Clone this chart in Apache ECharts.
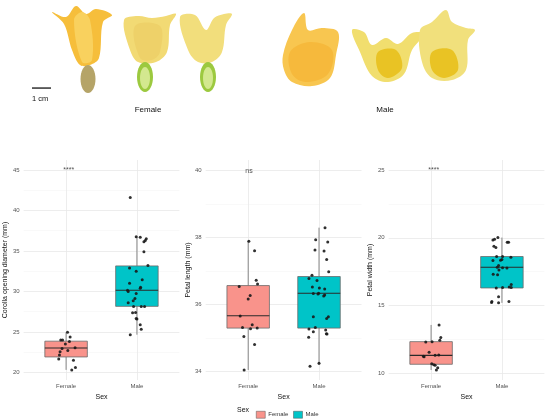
<!DOCTYPE html>
<html>
<head>
    <meta charset="utf-8">
    <script src="https://cdn.jsdelivr.net/npm/echarts@6/dist/echarts.min.js"></script>
    <title>Flower size by sex</title>
    <style>
        html, body { margin: 0; padding: 0; background: #fff; }
        #main { width: 550px; height: 419px; }
    </style>
</head>
<body>
    <div id="main"></div>
    <script type="text/javascript">
        // categories and panel texts
        var sexes = ['Female', 'Male'];
        var panelNames = ['Corolla opening diameter (mm)', 'Petal length (mm)', 'Petal width (mm)'];
        var sigLabels = ['****', 'ns', '****'];
        var sigY = [45, 40, 25];

        // tick labels and grid lines of each panel
        var yTicks = [[20, 25, 30, 35, 40, 45], [34, 36, 38, 40], [10, 15, 20, 25]];
        var yMinor = [[22.5, 27.5, 32.5, 37.5, 42.5], [35, 37, 39], [12.5, 17.5, 22.5]];
        var yRanges = [[19.05, 46.24], [33.75, 40.32], [9.51, 25.74]];

        // box stats: lower whisker, Q1, median, Q3, upper whisker  (Female, Male)
        var corollaBox = [[20.3, 21.9, 23.0, 23.85, 24.95], [24.65, 28.15, 30.15, 33.15, 36.75]];
        var lengthBox = [[34.05, 35.3, 35.67, 36.57, 37.9], [34.2, 35.3, 36.34, 36.84, 38.3]];
        var widthBox = [[10.25, 10.67, 11.33, 12.34, 13.57], [15.2, 16.3, 17.83, 18.62, 20.02]];

        // jittered points: [offset from category, value]
        var corollaFemale = [[0.02, 24.96], [-0.075, 24.0], [-0.05, 24.0], [0.057, 24.35], [0.047, 23.8], [-0.01, 23.5],
            [-0.057, 22.95], [0.127, 23.05], [0.024, 22.7], [-0.085, 22.55], [-0.094, 22.15], [-0.104, 21.65],
            [0.104, 21.5], [0.132, 20.6], [0.08, 20.3]];
        var corollaMale = [[-0.094, 41.6], [-0.01, 36.75], [0.047, 36.7], [0.132, 36.5], [0.118, 36.3], [0.099, 36.15],
            [0.099, 34.9], [0.156, 33.2], [-0.104, 32.9], [-0.01, 32.5], [0.075, 31.45], [-0.104, 31.0],
            [0.052, 30.5], [0.047, 30.4], [-0.132, 30.15], [-0.123, 30.0], [-0.01, 29.75], [-0.028, 29.13],
            [-0.052, 28.85], [-0.123, 28.6], [-0.047, 28.14], [0.061, 28.14], [0.108, 28.14], [-0.061, 27.35],
            [-0.019, 27.4], [-0.01, 26.65], [0.0, 26.6], [0.047, 25.87], [0.061, 25.33], [-0.094, 24.63]];
        var lengthFemale = [[0.009, 37.89], [0.09, 37.61], [0.113, 36.73], [0.132, 36.62], [-0.127, 36.54], [0.028, 36.27],
            [0.0, 36.17], [-0.113, 35.66], [-0.08, 35.32], [0.057, 35.4], [0.033, 35.28], [0.127, 35.3],
            [-0.061, 35.05], [0.09, 34.81], [-0.057, 34.05]];
        var lengthMale = [[0.085, 38.3], [-0.047, 37.94], [0.123, 37.87], [-0.057, 37.63], [0.071, 37.6], [0.108, 37.35],
            [0.137, 36.98], [-0.099, 36.88], [-0.142, 36.78], [-0.028, 36.72], [-0.094, 36.53], [0.005, 36.5],
            [0.08, 36.47], [-0.08, 36.33], [-0.014, 36.32], [-0.005, 36.34], [0.066, 36.26], [0.08, 36.29],
            [-0.08, 35.64], [0.132, 35.64], [0.108, 35.59], [-0.052, 35.32], [-0.142, 35.27], [0.094, 35.24],
            [-0.08, 35.19], [0.104, 35.13], [0.113, 35.12], [-0.146, 35.03], [0.0, 34.25], [-0.127, 34.16]];
        var widthFemale = [[0.113, 13.57], [0.137, 12.64], [0.123, 12.44], [-0.075, 12.32], [0.014, 12.34], [-0.028, 11.55],
            [-0.108, 11.26], [-0.099, 11.23], [0.057, 11.33], [0.108, 11.35], [0.009, 10.71], [0.038, 10.64],
            [0.057, 10.59], [0.094, 10.42], [0.075, 10.25]];
        var widthMale = [[-0.057, 20.02], [-0.127, 19.83], [-0.104, 19.9], [0.075, 19.68], [0.094, 19.68], [-0.113, 19.38],
            [-0.085, 19.29], [-0.075, 18.62], [0.009, 18.62], [0.127, 18.57], [-0.127, 18.33], [-0.019, 18.35],
            [0.0, 18.4], [-0.047, 17.95], [-0.066, 17.83], [0.009, 17.8], [0.071, 17.78], [-0.042, 17.63],
            [-0.123, 17.32], [-0.061, 17.27], [0.132, 16.55], [0.104, 16.38], [0.009, 16.33], [-0.08, 16.3],
            [0.132, 16.33], [-0.047, 15.66], [-0.142, 15.3], [-0.146, 15.22], [-0.047, 15.2], [0.099, 15.3]];

        var boxes = [corollaBox, lengthBox, widthBox];
        var points = [[corollaFemale, corollaMale], [lengthFemale, lengthMale], [widthFemale, widthMale]];

        var fills = ['#F9938B', '#00C4C8'];
        var gridLefts = [23.6, 205.7, 388.6];

        var myChart = echarts.init(document.getElementById('main'));

        var grids = [], xAxes = [], yAxes = [], series = [];

        for (var i = 0; i < 3; i++) {
            grids.push({ left: gridLefts[i], top: 160, width: 155.8, height: 220 });

            xAxes.push({
                gridIndex: i, type: 'value', min: 0.4, max: 2.6,
                axisLine: { show: false }, axisTick: { show: false }, splitLine: { show: false },
                axisLabel: {
                    customValues: [1, 2], fontSize: 6, color: '#555', margin: 3,
                    formatter: function (v) { return Math.abs(v - Math.round(v)) < 1e-6 ? (sexes[Math.round(v) - 1] || '') : ''; }
                },
                name: 'Sex', nameLocation: 'middle', nameGap: 10,
                nameTextStyle: { fontSize: 7, color: '#111' }
            });

            yAxes.push({
                gridIndex: i, type: 'value', min: yRanges[i][0], max: yRanges[i][1],
                axisLine: { show: false }, axisTick: { show: false }, splitLine: { show: false },
                axisLabel: { customValues: yTicks[i], fontSize: 6, color: '#555', margin: 4 },
                name: panelNames[i], nameLocation: 'middle', nameGap: 12,
                nameTextStyle: { fontSize: 7, color: '#111' }
            });

            // background grid lines
            var lines = [];
            yTicks[i].forEach(function (v) {
                lines.push([{ coord: [0.4, v], lineStyle: { color: '#e9e9e9', width: 0.8, type: 'solid' } }, { coord: [2.6, v] }]);
            });
            yMinor[i].forEach(function (v) {
                lines.push([{ coord: [0.4, v], lineStyle: { color: '#f3f3f3', width: 0.5, type: 'solid' } }, { coord: [2.6, v] }]);
            });
            [1, 2].forEach(function (x) {
                lines.push([{ coord: [x, yRanges[i][0]], lineStyle: { color: '#e9e9e9', width: 0.8, type: 'solid' } }, { coord: [x, yRanges[i][1]] }]);
            });
            series.push({
                type: 'scatter', xAxisIndex: i, yAxisIndex: i, silent: true, z: 0,
                data: [[1, yRanges[i][0]]], symbolSize: 0, animation: false,
                markLine: { z: 0, silent: true, symbol: 'none', animation: false, label: { show: false }, data: lines }
            });

            // boxes
            for (var s = 0; s < 2; s++) {
                series.push({
                    type: 'custom', name: sexes[s], xAxisIndex: i, yAxisIndex: i, z: 2,
                    itemStyle: { color: fills[s] },
                    data: [[s + 1].concat(boxes[i][s])],
                    encode: { x: 0, y: [1, 2, 3, 4, 5] },
                    renderItem: (function (fill) {
                        return function (params, api) {
                            var x = api.value(0);
                            var lo = api.coord([x, api.value(1)]);
                            var q1 = api.coord([x, api.value(2)]);
                            var md = api.coord([x, api.value(3)]);
                            var q3 = api.coord([x, api.value(4)]);
                            var hi = api.coord([x, api.value(5)]);
                            var hw = api.size([0.6, 0])[0] / 2;
                            var grey = { stroke: '#6b6b6b', lineWidth: 0.8 };
                            return {
                                type: 'group',
                                children: [
                                    { type: 'line', shape: { x1: lo[0], y1: lo[1], x2: q1[0], y2: q1[1] }, style: grey },
                                    { type: 'line', shape: { x1: q3[0], y1: q3[1], x2: hi[0], y2: hi[1] }, style: grey },
                                    { type: 'rect', shape: { x: q3[0] - hw, y: q3[1], width: 2 * hw, height: q1[1] - q3[1] },
                                      style: { fill: fill, stroke: '#6b6b6b', lineWidth: 0.8 } },
                                    { type: 'line', shape: { x1: md[0] - hw, y1: md[1], x2: md[0] + hw, y2: md[1] },
                                      style: { stroke: '#2a2a2a', lineWidth: 1.1 } }
                                ]
                            };
                        };
                    })(fills[s])
                });
            }

            // jittered observations
            var pts = [];
            for (var s2 = 0; s2 < 2; s2++) {
                points[i][s2].forEach(function (p) { pts.push([s2 + 1 + p[0], p[1]]); });
            }
            series.push({
                type: 'scatter', name: 'obs', xAxisIndex: i, yAxisIndex: i, z: 3,
                data: pts, symbolSize: 3, itemStyle: { color: '#1a1a1a', opacity: 0.9 }
            });

            // significance label
            series.push({
                type: 'scatter', xAxisIndex: i, yAxisIndex: i, z: 4, silent: true,
                data: [[0.96, sigY[i]]], symbolSize: 0,
                label: {
                    show: true, position: 'right', distance: 0, fontSize: 7, color: '#222',
                    formatter: sigLabels[i]
                }
            });
        }

        // decorative flower sketches for the photo row
        function blob(pts, fill, smooth) {
            return { type: 'polygon', shape: { points: pts, smooth: smooth === undefined ? 0.35 : smooth }, style: { fill: fill }, silent: true };
        }
        var flowers = [
            blob([[52, 12], [66, 17], [76, 6], [86, 14], [96, 9], [112, 15], [103, 22], [99, 58], [90, 65], [80, 65], [72, 50], [64, 24]], '#F6BE3B'),
            blob([[74, 20], [82, 12], [90, 20], [92, 60], [82, 62]], '#F9D15E'),
            { type: 'ellipse', shape: { cx: 88, cy: 79, rx: 7.5, ry: 14 }, style: { fill: '#B5A468' }, silent: true },
            blob([[124, 20], [138, 16], [152, 18], [166, 16], [176, 14], [170, 25], [167, 52], [156, 62], [138, 62], [130, 50]], '#F2DA74'),
            blob([[135, 26], [160, 26], [160, 52], [152, 60], [140, 58]], '#EED169'),
            { type: 'ellipse', shape: { cx: 145, cy: 77, rx: 8, ry: 15 }, style: { fill: '#9CC93F' }, silent: true },
            { type: 'ellipse', shape: { cx: 145, cy: 78, rx: 5, ry: 11 }, style: { fill: '#D3E88F' }, silent: true },
            blob([[180, 17], [195, 15], [206, 30], [214, 18], [224, 14], [232, 14], [226, 25], [222, 52], [212, 62], [198, 62], [188, 50]], '#F2DE7C'),
            { type: 'ellipse', shape: { cx: 208, cy: 77, rx: 8, ry: 15 }, style: { fill: '#9CC93F' }, silent: true },
            { type: 'ellipse', shape: { cx: 208, cy: 78, rx: 5, ry: 11 }, style: { fill: '#D3E88F' }, silent: true },
            blob([[283, 55], [292, 30], [304, 13], [308, 30], [322, 28], [338, 32], [336, 55], [330, 78], [312, 86], [292, 82], [284, 70]], '#F8C650'),
            blob([[290, 52], [310, 42], [332, 50], [328, 74], [306, 82], [292, 74]], '#F6B93C'),
            blob([[352, 30], [364, 32], [372, 45], [386, 38], [398, 44], [412, 33], [424, 34], [412, 50], [404, 74], [388, 82], [372, 76], [360, 52]], '#F1DE6E'),
            blob([[378, 52], [396, 50], [402, 68], [388, 78], [378, 70]], '#E9C324'),
            blob([[420, 30], [432, 22], [446, 10], [452, 22], [466, 28], [475, 30], [468, 40], [466, 70], [452, 80], [432, 78], [422, 62]], '#F1E07C'),
            blob([[432, 52], [452, 50], [458, 70], [444, 78], [432, 70]], '#E9C324')
        ];

        var graphics = flowers.concat([
            { type: 'rect', shape: { x: 32, y: 87.4, width: 19, height: 1.3 }, style: { fill: '#111' }, silent: true },
            { type: 'text', x: 32, y: 95, style: { text: '1 cm', fontSize: 7.5, fill: '#111', fontFamily: 'Liberation Sans, Arial, sans-serif' } },
            { type: 'text', x: 148, y: 106, style: { text: 'Female', fontSize: 8, fill: '#111', textAlign: 'center', fontFamily: 'Liberation Sans, Arial, sans-serif' } },
            { type: 'text', x: 385, y: 106, style: { text: 'Male', fontSize: 8, fill: '#111', textAlign: 'center', fontFamily: 'Liberation Sans, Arial, sans-serif' } },
            { type: 'text', x: 237, y: 406.5, style: { text: 'Sex', fontSize: 7, fill: '#111', fontFamily: 'Liberation Sans, Arial, sans-serif' } }
        ]);

        var option = {
            animation: false,
            textStyle: { fontFamily: 'Liberation Sans, Arial, sans-serif' },
            grid: grids,
            xAxis: xAxes,
            yAxis: yAxes,
            legend: {
                data: sexes, left: 251, top: 406, icon: 'rect', itemWidth: 9, itemHeight: 7, itemGap: 5,
                textStyle: { fontSize: 6, color: '#333', padding: [0, 0, 0, -2] },
                itemStyle: { borderColor: '#555', borderWidth: 0.5 },
                selectedMode: false
            },
            graphic: graphics,
            series: series
        };

        myChart.setOption(option);
    </script>
</body>
</html>
